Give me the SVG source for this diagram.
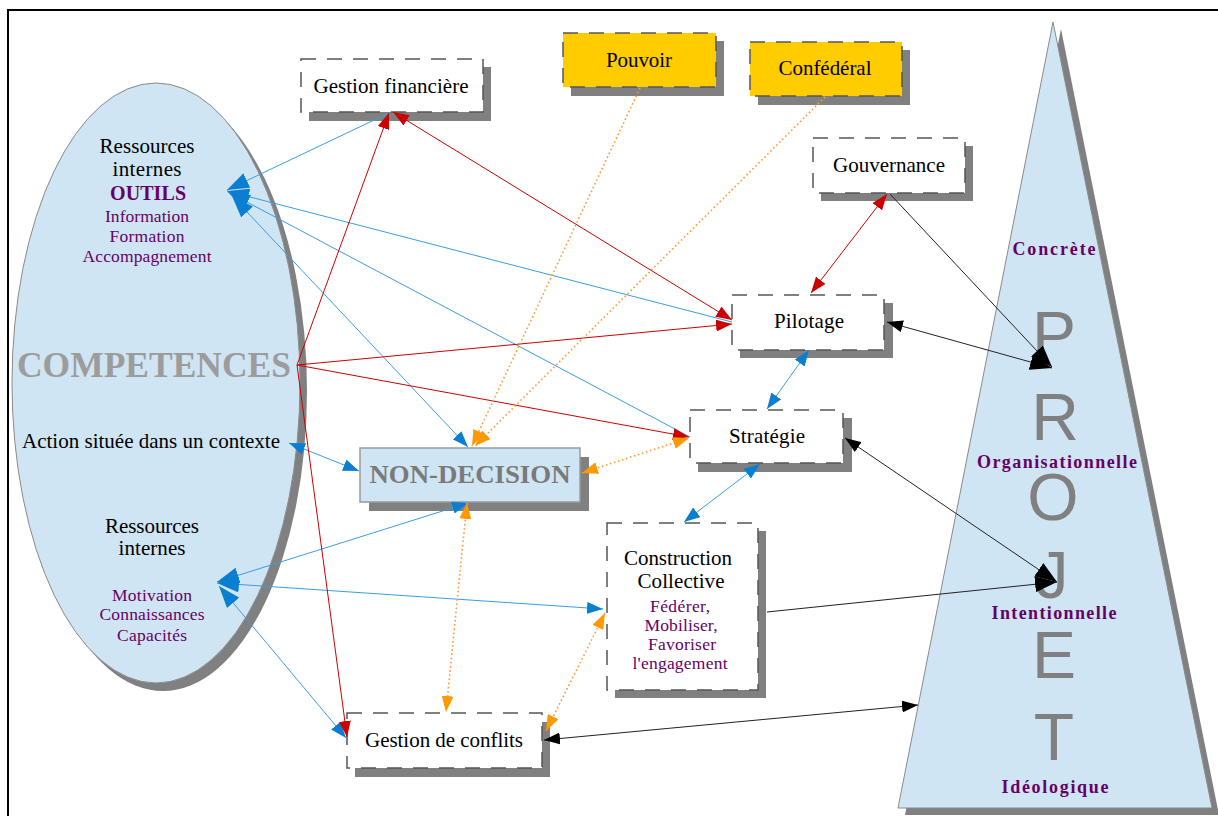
<svg xmlns="http://www.w3.org/2000/svg" width="1218" height="816" viewBox="0 0 1218 816">
<defs>
<style>
.t{font-family:'Liberation Serif','Tinos','Times New Roman','DejaVu Serif',serif;fill:#000;text-anchor:middle;font-size:21px}
.p{font-family:'Liberation Serif','Tinos','Times New Roman','DejaVu Serif',serif;fill:#660066;text-anchor:middle;font-size:17.5px}
.pb{font-family:'Liberation Serif','Tinos','Times New Roman','DejaVu Serif',serif;fill:#660066;text-anchor:middle;font-size:18px;font-weight:bold}
.shadow{fill:#808080}
.box{fill:#fff;stroke:#555;stroke-width:1.5;stroke-dasharray:15 11}
.ybox{fill:#ffcc00;stroke:#555;stroke-width:1.5;stroke-dasharray:15 11}
.blue{fill:none;stroke:#3a9de0;stroke-width:1}
.red{fill:none;stroke:#cc0000;stroke-width:1}
.blk{fill:none;stroke:#222;stroke-width:1}
.org{fill:none;stroke:#ff9933;stroke-width:1.6;stroke-dasharray:1.6 2.6}
.big{font-family:'Liberation Sans',Arial,sans-serif;font-size:66px;fill:#808080;text-anchor:middle}
</style>
<marker id="ab" viewBox="0 0 16 12" refX="16" refY="6" markerWidth="16" markerHeight="12" markerUnits="userSpaceOnUse" orient="auto-start-reverse"><path d="M0,0 L16,6 L0,12 z" fill="#0a7fd1"/></marker>
<marker id="abB" viewBox="0 0 22 16" refX="22" refY="8" markerWidth="22" markerHeight="16" markerUnits="userSpaceOnUse" orient="auto-start-reverse"><path d="M0,0 L22,8 L0,16 z" fill="#0a7fd1"/></marker>
<marker id="ar" viewBox="0 0 16 12" refX="16" refY="6" markerWidth="16" markerHeight="12" markerUnits="userSpaceOnUse" orient="auto-start-reverse"><path d="M0,0 L16,6 L0,12 z" fill="#cc0000"/></marker>
<marker id="ao" viewBox="0 0 16 12" refX="16" refY="6" markerWidth="16" markerHeight="12" markerUnits="userSpaceOnUse" orient="auto-start-reverse"><path d="M0,0 L16,6 L0,12 z" fill="#ff9900"/></marker>
<marker id="ak" viewBox="0 0 16 12" refX="16" refY="6" markerWidth="16" markerHeight="12" markerUnits="userSpaceOnUse" orient="auto-start-reverse"><path d="M0,0 L16,6 L0,12 z" fill="#000"/></marker>
<marker id="akB" viewBox="0 0 22 16" refX="22" refY="8" markerWidth="22" markerHeight="16" markerUnits="userSpaceOnUse" orient="auto-start-reverse"><path d="M0,0 L22,8 L0,16 z" fill="#000"/></marker>
</defs>
<rect width="1218" height="816" fill="#fff"/>
<path d="M8,816 V10 H1218" fill="none" stroke="#000" stroke-width="2"/>

<g id="node-competences">
<ellipse cx="163" cy="391" rx="144" ry="300" class="shadow"/>
<ellipse cx="156" cy="383" rx="144" ry="300" fill="#cfe5f3" stroke="#8a8a8a" stroke-width="1"/>
<text class="t" x="147" y="153" textLength="95">Ressources</text>
<text class="t" x="147" y="176" textLength="69">internes</text>
<text class="pb" x="148" y="200" style="font-size:20px" textLength="76">OUTILS</text>
<text class="p" x="147" y="222" textLength="84">Information</text>
<text class="p" x="147" y="242" textLength="75">Formation</text>
<text class="p" x="147" y="262" textLength="129">Accompagnement</text>
<text x="154" y="377" textLength="274" lengthAdjust="spacingAndGlyphs" style="font-family:'Liberation Serif','Times New Roman',serif;font-size:36px;font-weight:bold;fill:#9c9c9c;text-anchor:middle">COMPETENCES</text>
<text class="t" x="151" y="448" textLength="258">Action située dans un contexte</text>
<text class="t" x="152" y="533" textLength="94">Ressources</text>
<text class="t" x="152" y="555" textLength="67">internes</text>
<text class="p" x="152" y="601" textLength="80">Motivation</text>
<text class="p" x="152" y="620" textLength="105">Connaissances</text>
<text class="p" x="152" y="641" textLength="70">Capacités</text>
</g>

<g id="node-gestion-financiere">
<rect x="309" y="67" width="182" height="54" class="shadow"/>
<rect x="301" y="59" width="182" height="53" class="box"/>
<text class="t" x="391" y="93" textLength="155">Gestion financière</text>
</g>

<g id="node-pouvoir">
<rect x="571" y="41" width="153" height="55" class="shadow"/>
<rect x="563" y="33" width="153" height="54" class="ybox"/>
<text class="t" x="639" y="67" textLength="66">Pouvoir</text>
</g>

<g id="node-confederal">
<rect x="758" y="50" width="152" height="55" class="shadow"/>
<rect x="750" y="42" width="152" height="54" class="ybox"/>
<text class="t" x="825" y="75" textLength="93">Confédéral</text>
</g>

<g id="node-gouvernance">
<rect x="821" y="146" width="152" height="55" class="shadow"/>
<rect x="813" y="138" width="152" height="55" class="box"/>
<text class="t" x="889" y="172" textLength="112">Gouvernance</text>
</g>

<g id="node-pilotage">
<rect x="740" y="303" width="153" height="55" class="shadow"/>
<rect x="732" y="295" width="152" height="55" class="box"/>
<text class="t" x="809" y="328" textLength="70">Pilotage</text>
</g>

<g id="node-strategie">
<rect x="698" y="418" width="154" height="54" class="shadow"/>
<rect x="690" y="410" width="153" height="53" class="box"/>
<text class="t" x="767" y="443" textLength="76">Stratégie</text>
</g>

<g id="node-non-decision">
<rect x="369" y="457" width="220" height="54" class="shadow"/>
<rect x="360" y="448" width="220" height="54" fill="#cfe5f3" stroke="#9a9a9a" stroke-width="1.5"/>
<text x="470" y="483" textLength="201" lengthAdjust="spacingAndGlyphs" style="font-family:'Liberation Serif','Times New Roman',serif;font-size:25px;font-weight:bold;fill:#7a7a7a;text-anchor:middle">NON-DECISION</text>
</g>

<g id="node-construction">
<rect x="615" y="531" width="151" height="167" class="shadow"/>
<rect x="607" y="523" width="151" height="167" class="box"/>
<text class="t" x="678" y="565" textLength="108">Construction</text>
<text class="t" x="681" y="588" textLength="87">Collective</text>
<text class="p" x="680" y="612" textLength="60">Fédérer,</text>
<text class="p" x="681" y="631" textLength="73">Mobiliser,</text>
<text class="p" x="682" y="650" textLength="68">Favoriser</text>
<text class="p" x="680" y="669" textLength="95">l'engagement</text>
</g>

<g id="node-gestion-conflits">
<rect x="355" y="722" width="195" height="55" class="shadow"/>
<rect x="347" y="713" width="195" height="55" class="box"/>
<text class="t" x="444" y="747" textLength="158">Gestion de conflits</text>
</g>

<g id="node-projet">
<polygon points="1061,29 1219,815 905,815" class="shadow"/>
<polygon points="1053,22 1212,808 898,808" fill="#cfe5f3" stroke="#8a8a8a" stroke-width="1"/>
<text class="big" x="1054" y="358">P</text>
<text class="big" x="1055" y="440">R</text>
<text class="big" x="1053" y="520">O</text>
<text class="big" x="1052" y="598">J</text>
<text class="big" x="1054" y="678">E</text>
<text class="big" x="1054" y="760">T</text>
<text class="pb" x="1054" y="255" textLength="83">Concrète</text>
<text class="pb" x="1057" y="468" textLength="160">Organisationnelle</text>
<text class="pb" x="1054" y="619" textLength="125">Intentionnelle</text>
<text class="pb" x="1055" y="793" textLength="107">Idéologique</text>
</g>

<g id="connectors">
<path class="blue" d="M391,112 L227,190" marker-end="url(#abB)"/>
<path class="blue" d="M732,322 L227,191" marker-end="url(#abB)"/>
<path class="blue" d="M690,437 L228,192" marker-end="url(#abB)"/>
<path class="blue" d="M232,196 L468,447" marker-start="url(#abB)" marker-end="url(#ab)"/>
<path class="blue" d="M289,443 L359,471" marker-start="url(#ab)" marker-end="url(#ab)"/>
<path class="blue" d="M468,503 L217,582" marker-start="url(#ab)" marker-end="url(#abB)"/>
<path class="blue" d="M217,583 L603,609" marker-start="url(#abB)" marker-end="url(#ab)"/>
<path class="blue" d="M219,586 L346,738" marker-start="url(#abB)" marker-end="url(#ab)"/>
<path class="blue" d="M809,350 L767,409" marker-start="url(#ab)" marker-end="url(#ab)"/>
<path class="blue" d="M760,464 L684,522" marker-start="url(#ab)" marker-end="url(#ab)"/>

<path class="red" d="M297,365 L389,113" marker-end="url(#ar)"/>
<path class="red" d="M732,320 L393,112" marker-start="url(#ar)" marker-end="url(#ar)"/>
<path class="red" d="M297,365 L732,324" marker-end="url(#ar)"/>
<path class="red" d="M297,365 L689,437" marker-end="url(#ar)"/>
<path class="red" d="M297,365 L347,737" marker-end="url(#ar)"/>
<path class="red" d="M887,194 L811,293" marker-start="url(#ar)" marker-end="url(#ar)"/>

<path class="blk" d="M890,194 L1052,367" marker-end="url(#akB)"/>
<path class="blk" d="M887,322 L1052,368" marker-start="url(#ak)" marker-end="url(#akB)"/>
<path class="blk" d="M845,438 L1057,582" marker-start="url(#ak)" marker-end="url(#akB)"/>
<path class="blk" d="M767,612 L1057,582" marker-end="url(#akB)"/>
<path class="blk" d="M544,740 L918,705" marker-start="url(#ak)" marker-end="url(#ak)"/>

<path class="org" d="M640,88 L472,446" marker-end="url(#ao)"/>
<path class="org" d="M825,97 L475,446" marker-end="url(#ao)"/>
<path class="org" d="M582,473 L689,438" marker-start="url(#ao)" marker-end="url(#ao)"/>
<path class="org" d="M467,503 L446,712" marker-start="url(#ao)" marker-end="url(#ao)"/>
<path class="org" d="M605,613 L546,731" marker-start="url(#ao)" marker-end="url(#ao)"/>
</g>
</svg>
